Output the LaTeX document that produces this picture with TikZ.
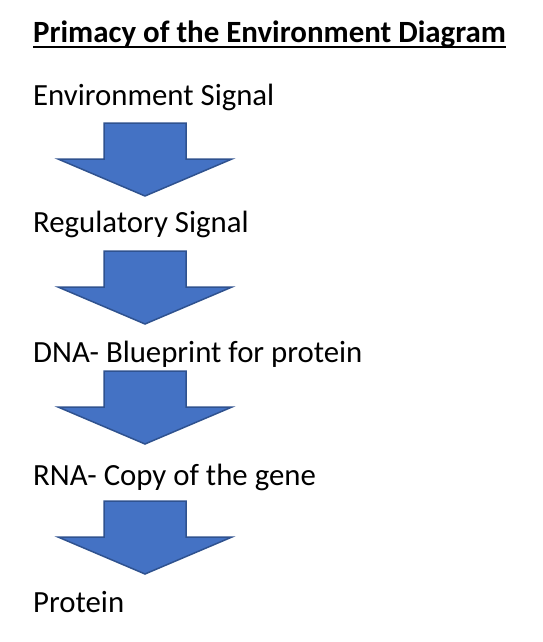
\documentclass[tikz,border=0pt]{standalone}
\usepackage{fontspec}
\setmainfont{Carlito}
\usepackage{xcolor}
\usepackage{tikz}
\usetikzlibrary{positioning}
\definecolor{officeblue}{HTML}{4472C4}
\definecolor{officeedge}{HTML}{2F528F}
\tikzset{
    flow title/.style={font=\fontsize{30.9}{36}\selectfont\bfseries, anchor=base west, inner sep=0pt},
    flow step/.style={font=\fontsize{30.8}{36}\selectfont, anchor=base west, inner sep=0pt},
    flow rule/.style={line width=2pt, draw=black},
    flow arrow/.style={fill=officeblue, draw=officeedge, line width=1.5pt, line join=miter},
    pics/down arrow/.style={code={
        \draw[flow arrow] (-41,0) -- (41,0) -- (41,36) -- (87,36) -- (0,73)
            -- (-87,36) -- (-41,36) -- cycle;
    }}
}

\begin{document}
\begin{tikzpicture}[x=1pt, y=-1pt]
\useasboundingbox (0,0) rectangle (542,642);
% Title
\node[flow title] (title) at (33,42) {Primacy of the Environment Diagram};
\draw[flow rule] ([yshift=-5pt]title.base west) -- ([yshift=-5pt]title.base east);

% Steps
\node[flow step] (env) at (33,105) {Environment Signal};
\node[flow step] (reg) at (33,232) {Regulatory Signal};
\node[flow step] (dna) at (33,362) {DNA- Blueprint for protein};
\node[flow step] (rna) at (33,485) {RNA- Copy of the gene};
\node[flow step] (prot) at (33,612) {Protein};

% Block arrows
\pic (a1) at (145,123) {down arrow};
\pic (a2) at (145,251) {down arrow};
\pic (a3) at (145,371) {down arrow};
\pic (a4) at (145,501) {down arrow};
\end{tikzpicture}
\end{document}
